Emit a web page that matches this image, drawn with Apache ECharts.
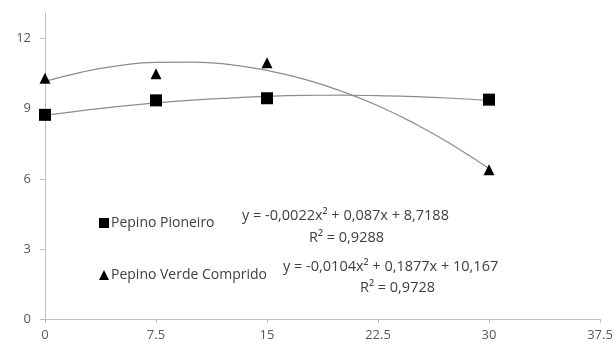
<!DOCTYPE html>
<html>
<head>
<meta charset="utf-8">
<script src="https://cdn.jsdelivr.net/npm/echarts@6/dist/echarts.min.js"></script>
<style>
html,body{margin:0;padding:0;background:#fff;}
#chart{width:616px;height:347px;}
</style>
</head>
<body>
<div id="chart"></div>
<script>
// Observed data
const xDoses = [0, 7.5, 15, 30];
const pioneiro = [8.74, 9.36, 9.45, 9.39];
const verdeComprido = [10.31, 10.50, 10.97, 6.39];

// Trend curves
const trendX = [0, 2.5, 5, 7.5, 10, 12.5, 15, 17.5, 20, 22.5, 25, 27.5, 30];
const pioneiroTrend = [8.72, 8.92, 9.10, 9.25, 9.37, 9.46, 9.53, 9.57, 9.58, 9.56, 9.52, 9.45, 9.35];
const verdeTrend = [10.17, 10.57, 10.85, 10.99, 11.00, 10.89, 10.64, 10.27, 9.76, 9.13, 8.36, 7.46, 6.44];

// Axis ticks
const xTicks = [0, 7.5, 15, 22.5, 30, 37.5];
const yTicks = [0, 3, 6, 9, 12];

const seriesNames = ['Pepino Pioneiro', 'Pepino Verde Comprido'];
const eqPioneiro = 'y = -0,0022x² + 0,087x + 8,7188';
const r2Pioneiro = 'R² = 0,9288';
const eqVerde = 'y = -0,0104x² + 0,1877x + 10,167';
const r2Verde = 'R² = 0,9728';

const pair = (xs, ys) => xs.map((x, i) => [x, ys[i]]);

const FONT = 'Open Sans';
const EQFONT = '14.5px "' + FONT + '"';
const chart = echarts.init(document.getElementById('chart'), null, {renderer: 'canvas'});
chart.setOption({
  animation: false,
  backgroundColor: '#ffffff',
  grid: {left: 45, right: 16, top: 13, bottom: 28, containLabel: false},
  xAxis: {
    type: 'value',
    min: xTicks[0], max: xTicks[xTicks.length - 1], interval: 7.5,
    splitLine: {show: false},
    axisLine: {lineStyle: {color: '#bfbfbf', width: 1}},
    axisTick: {show: true, length: 4, lineStyle: {color: '#bfbfbf'}},
    axisLabel: {color: '#595959', fontSize: 13, fontFamily: FONT, margin: 10,
      formatter: v => String(v)}
  },
  yAxis: {
    type: 'value',
    min: yTicks[0], max: 13.1, interval: 3,
    splitLine: {show: false},
    axisLine: {show: true, lineStyle: {color: '#bfbfbf', width: 1}},
    axisTick: {show: true, length: 5, lineStyle: {color: '#bfbfbf'}},
    axisLabel: {color: '#595959', fontSize: 13, fontFamily: FONT, margin: 14,
      showMaxLabel: false,
      formatter: v => (yTicks.indexOf(v) >= 0 ? String(v) : '')}
  },
  legend: {
    data: [
      {name: seriesNames[0], icon: 'rect', itemStyle: {color: '#000', opacity: 1}},
      {name: seriesNames[1], icon: 'triangle', itemStyle: {color: '#000', opacity: 1}}
    ],
    orient: 'vertical',
    left: 94, top: 211,
    itemWidth: 10, itemHeight: 10, itemGap: 38,
    textStyle: {color: '#404040', fontSize: 14, fontFamily: FONT, padding: [0, 0, 0, -3]}
  },
  series: [
    {
      name: 'trend1', type: 'line', data: pair(trendX, pioneiroTrend),
      smooth: true, showSymbol: false, symbol: 'none',
      lineStyle: {color: '#8c8c8c', width: 1.2}, z: 1, silent: true
    },
    {
      name: 'trend2', type: 'line', data: pair(trendX, verdeTrend),
      smooth: true, showSymbol: false, symbol: 'none',
      lineStyle: {color: '#8c8c8c', width: 1.2}, z: 1, silent: true
    },
    {
      name: seriesNames[0], type: 'scatter', data: pair(xDoses, pioneiro),
      symbol: 'rect', symbolSize: 12, itemStyle: {color: '#000000', opacity: 1}, z: 3
    },
    {
      name: seriesNames[1], type: 'scatter', data: pair(xDoses, verdeComprido),
      symbol: 'triangle', symbolSize: 11, itemStyle: {color: '#000000', opacity: 1}, z: 3
    }
  ],
  graphic: [
    {type: 'text', left: 242, top: 208, style: {text: eqPioneiro, fill: '#404040', font: EQFONT}},
    {type: 'text', left: 309, top: 230, style: {text: r2Pioneiro, fill: '#404040', font: EQFONT}},
    {type: 'text', left: 283, top: 259, style: {text: eqVerde, fill: '#404040', font: EQFONT}},
    {type: 'text', left: 360, top: 280, style: {text: r2Verde, fill: '#404040', font: EQFONT}}
  ]
});
</script>
</body>
</html>
